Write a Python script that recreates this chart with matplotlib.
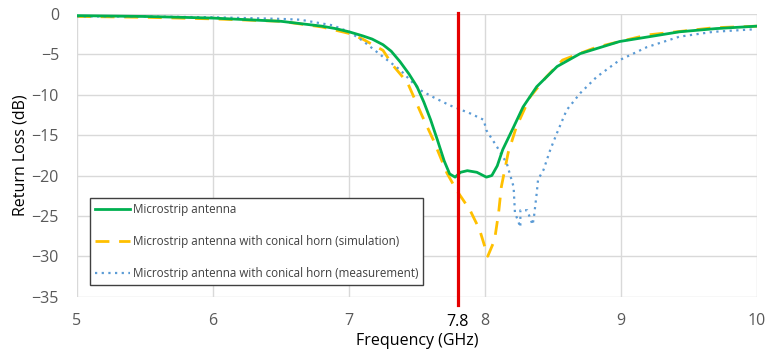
import matplotlib
matplotlib.use("Agg")
import matplotlib.pyplot as plt
import matplotlib.transforms as mtransforms

plt.rcParams['font.family'] = ['Open Sans', 'DejaVu Sans']

# Microstrip antenna
f_micro = [5.0, 5.5, 6.0, 6.5, 6.8, 6.9, 7.0, 7.1, 7.17, 7.25, 7.31, 7.375, 7.44, 7.5, 7.55, 7.6, 7.65, 7.7, 7.74, 7.78,
           7.82, 7.87, 7.94, 8.01, 8.05, 8.09, 8.13, 8.21, 8.28, 8.38, 8.53, 8.70, 8.99, 9.43, 9.7, 10.0]
s_micro = [-0.2, -0.3, -0.5, -0.9, -1.5, -1.8, -2.2, -2.7, -3.1, -3.8, -4.6, -5.9, -7.4, -9.0, -10.9, -13.1, -15.6, -18.2, -19.8, -20.2,
           -19.6, -19.4, -19.6, -20.2, -20.0, -18.8, -16.8, -14.0, -11.5, -9.0, -6.5, -4.9, -3.4, -2.2, -1.8, -1.5]

# Microstrip antenna with conical horn (simulation)
f_sim = [5.0, 5.5, 6.0, 6.5, 6.8, 7.0, 7.1, 7.25, 7.32, 7.43, 7.54, 7.62, 7.72, 7.79, 7.89, 7.96, 8.02,
         8.07, 8.10, 8.12, 8.17, 8.23, 8.33, 8.45, 8.57, 8.82, 9.19, 9.68, 10.0]
s_sim = [-0.3, -0.4, -0.6, -0.9, -1.6, -2.4, -3.1, -4.5, -6.3, -8.5, -12.7, -15.6, -19.7, -21.8, -24.3, -26.7, -30.0,
         -28.0, -24.6, -21.4, -17.2, -14.0, -10.3, -7.8, -5.7, -4.1, -2.6, -1.7, -1.5]

# Microstrip antenna with conical horn (measurement)
f_meas = [5.0, 5.5, 6.0, 6.5, 6.64, 6.88, 7.0, 7.1, 7.25, 7.375, 7.52, 7.62, 7.74, 7.89, 7.99, 8.01, 8.09,
          8.16, 8.21, 8.22, 8.26, 8.26, 8.31, 8.35, 8.36, 8.38, 8.39, 8.43, 8.48, 8.53, 8.60, 8.70, 8.82,
          8.99, 9.19, 9.43, 9.68, 9.97]
s_meas = [-0.3, -0.3, -0.4, -0.6, -0.7, -1.4, -2.2, -3.3, -5.3, -6.9, -9.4, -10.3, -11.3, -12.3, -13.1, -14.4, -16.5,
          -18.5, -21.4, -24.6, -26.4, -24.3, -24.3, -26.1, -25.1, -22.2, -20.5, -19.3, -16.8, -14.7, -11.9, -9.8, -7.8,
          -5.7, -4.1, -2.8, -2.2, -1.9]

x_ticks = [5, 6, 7, 8, 9, 10]
y_ticks = [0, -5, -10, -15, -20, -25, -30, -35]
marker_freq = 7.8

fig = plt.figure(figsize=(7.68, 3.6), dpi=100)
ax = fig.add_axes([0.1003, 0.176, 0.8854, 0.785])

ax.plot(f_micro, s_micro, color='#00b050', lw=2.0, label='Microstrip antenna', zorder=4)
ax.plot(f_sim, s_sim, color='#ffc000', lw=2.0, ls=(0, (5, 3.5)),
        label='Microstrip antenna with conical horn (simulation)', zorder=3)
ax.plot(f_meas, s_meas, color='#5b9bd5', lw=1.6, ls=(0, (1, 2)),
        label='Microstrip antenna with conical horn (measurement)', zorder=3)

ax.axvline(marker_freq, ymin=-0.029, ymax=1.005, color='#e50000', lw=2.3, clip_on=False, zorder=5)
trans = mtransforms.blended_transform_factory(ax.transData, ax.transAxes)
ax.text(marker_freq, -0.088, '7.8', transform=trans, ha='center', va='center', fontsize=11.5, color='black')

ax.set_xlim(5, 10)
ax.set_ylim(-35, 0)
ax.set_xticks(x_ticks)
ax.set_yticks(y_ticks)
ax.tick_params(length=0, labelsize=11.5, labelcolor='#595959')
ax.tick_params(axis='x', pad=12)
ax.tick_params(axis='y', pad=13)
ax.grid(True, color='#d9d9d9', lw=1.0)
ax.set_axisbelow(True)
for s in ax.spines.values():
    s.set_visible(False)

ax.set_xlabel('Frequency (GHz)', fontsize=11.5, labelpad=3)
ax.set_ylabel('Return Loss (dB)', fontsize=11.5, labelpad=2)

leg = ax.legend(loc='lower left', bbox_to_anchor=(0.019, 0.041), borderaxespad=0, fontsize=8.4,
                fancybox=False, edgecolor='#404040', framealpha=1, labelspacing=1.6,
                handlelength=3.0, handletextpad=0.2, borderpad=0.45)
leg.get_frame().set_linewidth(1.0)
for t in leg.get_texts():
    t.set_color('#404040')

fig.savefig('out.png', dpi=100)
